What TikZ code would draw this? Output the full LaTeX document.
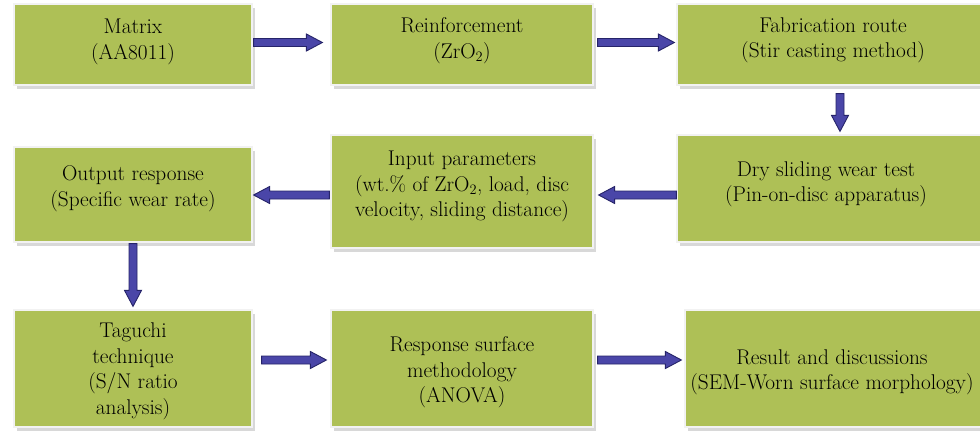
\documentclass[tikz,border=0pt]{standalone}
\usetikzlibrary{calc,shadows}
\definecolor{boxgreen}{RGB}{174,192,86}
\definecolor{arrfill}{RGB}{74,70,168}
\definecolor{arrline}{RGB}{38,36,105}
\begin{document}
\begin{tikzpicture}[x=1pt,y=-1pt,
  box/.style={rectangle, fill=boxgreen, draw=black!5, line width=1.2pt, inner sep=0pt,
    drop shadow={shadow xshift=3pt, shadow yshift=-4pt, fill=black!30}},
  txt/.style={align=center, font=\fontsize{21.3}{25.5}\selectfont, text=black, inner sep=0pt},
  fat/.style={fill=arrfill, draw=arrline, line width=0.9pt, line join=miter, to path={
    let \p1=(\tikztostart), \p2=(\tikztotarget),
      \n1={veclen(\x2-\x1,\y2-\y1)},
      \n2={(\x2-\x1)/\n1}, \n3={(\y2-\y1)/\n1}, \n4={\n1-16} in
    ({\x1-4*(\n3)},{\y1+4*(\n2)}) -- ({\x1+\n4*(\n2)-4*(\n3)},{\y1+\n4*(\n3)+4*(\n2)})
    -- ({\x1+\n4*(\n2)-8.5*(\n3)},{\y1+\n4*(\n3)+8.5*(\n2)}) -- (\p2)
    -- ({\x1+\n4*(\n2)+8.5*(\n3)},{\y1+\n4*(\n3)-8.5*(\n2)}) -- ({\x1+\n4*(\n2)+4*(\n3)},{\y1+\n4*(\n3)-4*(\n2)})
    -- ({\x1+4*(\n3)},{\y1-4*(\n2)}) -- cycle}}]
\useasboundingbox (0,0) rectangle (980,436);
\clip (0,0) rectangle (980,436);
\fill[white] (0,0) rectangle (980,436);

% boxes
\node[box, minimum width=238pt, minimum height=81pt] (m) at (133,44.5) {};
\node[box, minimum width=262pt, minimum height=81pt] (r) at (462,44.5) {};
\node[box, minimum width=312pt, minimum height=81pt] (f) at (833,44.5) {};
\node[box, minimum width=308pt, minimum height=107pt] (d) at (831,188.5) {};
\node[box, minimum width=262pt, minimum height=113pt] (i) at (462,191.5) {};
\node[box, minimum width=238pt, minimum height=95pt] (o) at (133,194.5) {};
\node[box, minimum width=238pt, minimum height=117pt] (t) at (133,368.5) {};
\node[box, minimum width=262pt, minimum height=117pt] (s) at (462,368.5) {};
\node[box, minimum width=297pt, minimum height=117pt] (e) at (833.5,368.5) {};

% texts
\node[txt] (mt) at ($(m.center)+(0,-2.5)$) {Matrix\\(AA8011)};
\node[txt] (rt) at ($(r.center)+(0,-4)$) {Reinforcement\\(ZrO$_2$)};
\node[txt] (ft) at ($(f.center)+(0,-4)$) {Fabrication route\\(Stir casting method)};
\node[txt] (dt) at ($(d.center)+(-5,-4)$) {Dry sliding wear test\\(Pin-on-disc apparatus)};
\node[txt] (it) at ($(i.center)+(0,-5)$) {Input parameters\\(wt.\% of ZrO$_2$, load, disc\\velocity, sliding distance)};
\node[txt] (ot) at ($(o.center)+(0,-6)$) {Output response\\(Specific wear rate)};
\node[txt] (tt) at ($(t.center)+(0,3)$) {Taguchi\\technique\\(S/N ratio\\analysis)};
\node[txt] (st) at ($(s.center)+(0,4)$) {Response surface\\methodology\\(ANOVA)};
\node[txt] (et) at ($(e.center)+(-1.5,4)$) {Result and discussions\\(SEM-Worn surface morphology)};

% arrows
\draw[fat] ($(m.east)+(1,-2)$) to ($(r.west)+(-8,-2)$);
\draw[fat] ($(r.east)+(4,-2)$) to ($(f.west)+(-2,-2)$);
\draw[fat] ($(f.south)+(7,8)$) to ($(f.south |- d.north)+(7,-3)$);
\draw[fat] ($(d.west)+(0,6.5)$) to ($(i.east |- d.west)+(5,6.5)$);
\draw[fat] ($(i.west)+(-1,3.5)$) to ($(o.east |- i.west)+(1,3.5)$);
\draw[fat] ($(o.south)+(0,1)$) to ($(t.north)+(0,-3)$);
\draw[fat] ($(t.east)+(9,-8.5)$) to ($(s.west)+(-4,-8.5)$);
\draw[fat] ($(s.east)+(4,-8.5)$) to ($(e.west)+(-3,-8.5)$);
\end{tikzpicture}
\end{document}
